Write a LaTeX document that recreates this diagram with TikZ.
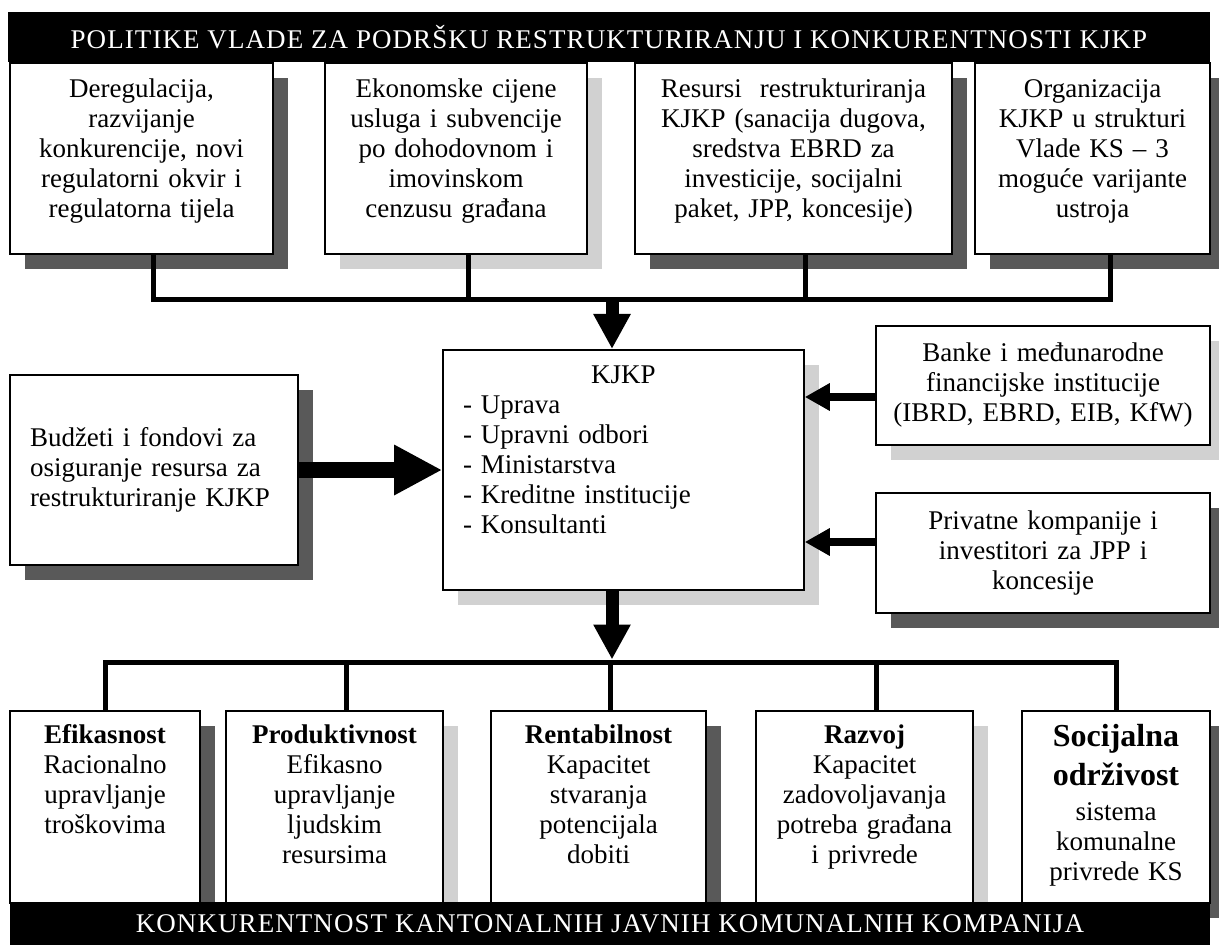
\documentclass[tikz,border=0pt]{standalone}
\usepackage{fontspec}
\setmainfont{Liberation Serif}
\newfontfamily\naslovfont[LetterSpace=4]{Liberation Serif}
\usetikzlibrary{positioning,shadows,arrows.meta,calc}
\newcommand{\tekst}{\fontsize{13.5}{15}\selectfont}

\begin{document}
\begin{tikzpicture}[x=0.5pt,y=-0.5pt,font=\tekst,
		okvir/.style={draw, line width=0.8pt, fill=white, align=center, inner sep=2pt},
		gore/.style={anchor=north, text height=15.5pt, text depth=76pt},
		dolje/.style={anchor=north, text height=14.5pt, text depth=77.5pt},
		tamna/.style={drop shadow={shadow xshift=7.5pt, shadow yshift=-7.5pt, fill=black!65, opacity=1}},
		svijetla/.style={drop shadow={shadow xshift=7.5pt, shadow yshift=-7.5pt, fill=black!18, opacity=1}},
		traka/.style={fill=black, text=white, inner sep=0pt, font=\naslovfont\fontsize{13.5}{15}\selectfont},
		veza/.style={line width=2.5pt, line join=miter},
		strelica/.style={line width=6.5pt, -{Triangle[length=17.5pt, width=17.5pt]}},
		velika/.style={line width=8pt, -{Triangle[length=24pt, width=23.5pt]}},
		mala/.style={line width=4pt, -{Triangle[length=12.5pt, width=13pt]}}]
		\fill[white] (0,0) rectangle (1219,946);
		\useasboundingbox (0,0) rectangle (1219,946);
		
		% gornja traka i politike vlade
		\node[traka, minimum width=601pt, minimum height=25pt] (vlada) at (609,37) {POLITIKE VLADE ZA PODRŠKU RESTRUKTURIRANJU I KONKURENTNOSTI KJKP};
		\node[okvir, gore, tamna, text width=127.5pt] (r1) at (141.5,62) {Deregulacija,\\ razvijanje\\ konkurencije, novi\\ regulatorni okvir i\\ regulatorna tijela};
		\node[okvir, gore, svijetla, text width=127pt] (r2) at (456,62) {Ekonomske cijene\\ usluga i subvencije\\ po dohodovnom i\\ imovinskom\\ cenzusu građana};
		\node[okvir, gore, tamna, text width=154.5pt] (r3) at (793.5,62) {Resursi\ \ restrukturiranja\\ KJKP (sanacija dugova,\\ sredstva EBRD za\\ investicije, socijalni\\ paket, JPP, koncesije)};
		\node[okvir, gore, tamna, text width=113.5pt] (r4) at (1092.5,62) {Organizacija\\ KJKP u strukturi\\ Vlade KS -- 3\\ moguće varijante\\ ustroja};
		
		% KJKP u sredini
		\node[okvir, svijetla, anchor=north, align=left, inner xsep=10pt, text width=160.5pt, text height=15pt, text depth=101pt] (kjkp) at (623.5,349)
			{\makebox[\linewidth]{KJKP}\\ - Uprava\\ - Upravni odbori\\ - Ministarstva\\ - Kreditne institucije\\ - Konsultanti};
		\node[okvir, tamna, align=left, inner xsep=10pt, text width=124pt, minimum width=144pt, minimum height=95pt] (budzet) at (154,470)
			{Budžeti i fondovi za\\ osiguranje resursa za\\ restrukturiranje KJKP};
		\node[okvir, svijetla, text width=163pt, minimum height=59.5pt] (banke) at (1043,385.5)
			{Banke i međunarodne\\ financijske institucije\\ (IBRD, EBRD, EIB, KfW)};
		\node[okvir, tamna, text width=163pt, minimum height=60pt] (privatne) at (1043,553)
			{Privatne kompanije i\\ investitori za JPP i\\ koncesije};
		
		% konkurentnost
		\node[okvir, dolje, tamna, text width=91pt] (d1) at (105,710) {\textbf{Efikasnost}\\ Racionalno\\ upravljanje\\ troškovima};
		\node[okvir, dolje, svijetla, text width=104.5pt] (d2) at (334.5,710) {\textbf{Produktivnost}\\ Efikasno\\ upravljanje\\ ljudskim\\ resursima};
		\node[okvir, dolje, tamna, text width=103.5pt] (d3) at (598.5,710) {\textbf{Rentabilnost}\\ Kapacitet\\ stvaranja\\ potencijala\\ dobiti};
		\node[okvir, dolje, svijetla, text width=104.5pt] (d4) at (864.5,710) {\textbf{Razvoj}\\ Kapacitet\\ zadovoljavanja\\ potreba građana\\ i privrede};
		\node[okvir, dolje, tamna, text width=90pt, text height=16pt, text depth=76pt] (d5) at (1116,710)
			{{\fontsize{16}{19}\selectfont\bfseries Socijalna\\[4.5pt] održivost}\\[2.5pt] sistema\\ komunalne\\ privrede KS};
		\node[traka, minimum width=600pt, minimum height=21.5pt] (konk) at (610,923.5) {KONKURENTNOST KANTONALNIH JAVNIH KOMUNALNIH KOMPANIJA};
		
		% veze
		\coordinate (bus1) at (612,300);
		\coordinate (bus2) at (612,662);
		\draw[veza] ([xshift=6pt]r1.south) |- (bus1) -| ([xshift=9pt]r4.south);
		\foreach \i in {2,3}
			\draw[veza] ([xshift=6pt]r\i.south) -- ([xshift=6pt]r\i.south |- bus1);
		\draw[strelica] (bus1) -- (bus1 |- kjkp.north);
		\draw[velika] (budzet.east) -- (budzet.east -| kjkp.west);
		\draw[mala] ([yshift=-5.75pt]banke.west) -- ([yshift=-5.75pt]banke.west -| kjkp.east);
		\draw[mala] ([yshift=5.5pt]privatne.west) -- ([yshift=5.5pt]privatne.west -| kjkp.east);
		\draw[strelica] (kjkp.south -| bus2) -- ([yshift=1.25pt]bus2);
		\draw[veza] (d1.north) |- (bus2) -| (d5.north);
		\foreach \i in {2,3,4}
			\draw[veza] ([xshift=6pt]d\i.north) -- ([xshift=6pt]d\i.north |- bus2);
	\end{tikzpicture}
\end{document}
